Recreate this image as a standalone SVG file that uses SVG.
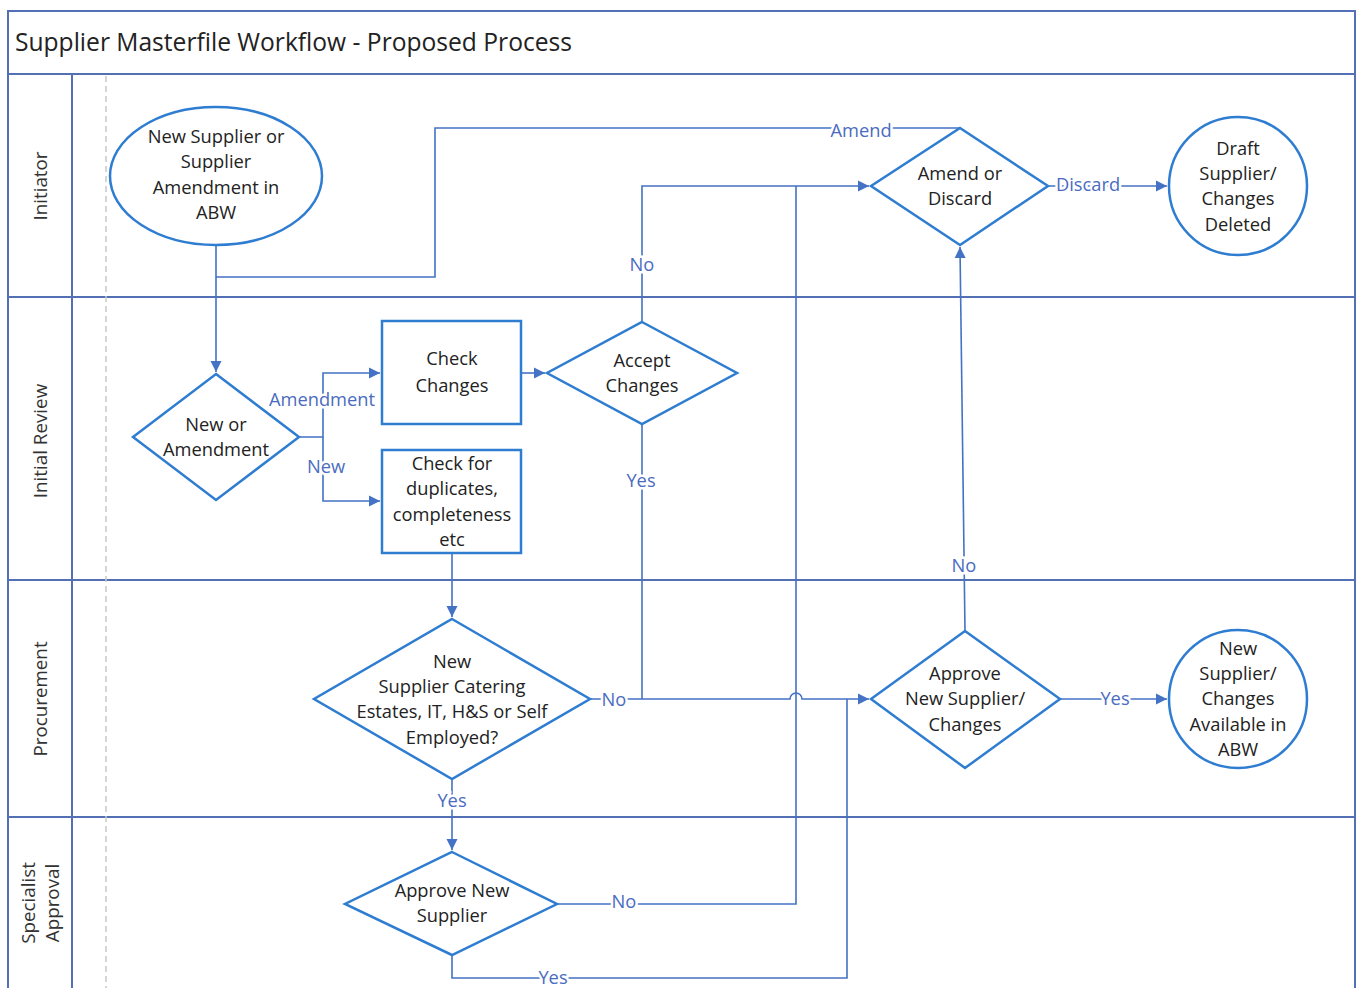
<svg xmlns="http://www.w3.org/2000/svg" width="1359" height="988" viewBox="0 0 1359 988">
<defs>
<marker id="arr" markerUnits="userSpaceOnUse" markerWidth="12" markerHeight="12" refX="11" refY="6" orient="auto">
<path d="M0,0.5 L11,6 L0,11.5 Z" fill="#4472c4"/>
</marker>
<style>
.lane{fill:none;stroke:#5470b4;stroke-width:2}
.dash{stroke:#c8c8c8;stroke-width:1.5;stroke-dasharray:6 4}
.shape{fill:#fff;stroke:#2e7dd1;stroke-width:2.5}
.con{fill:none;stroke:#4472c4;stroke-width:1.6}
.t{font-family:"Open Sans","Liberation Sans",sans-serif;font-size:18.3px;fill:#222;text-anchor:middle}
.lbl{font-family:"Open Sans","Liberation Sans",sans-serif;font-size:18.3px;fill:#4a6cc0;text-anchor:middle;stroke:#fff;stroke-width:5;paint-order:stroke}
.ln{font-family:"Open Sans","Liberation Sans",sans-serif;font-size:18.8px;fill:#333;text-anchor:middle}
</style>
</defs>
<rect width="1359" height="988" fill="#fff"/>
<g id="pool">
<rect class="lane" x="8" y="11" width="1347" height="1000"/>
<line class="lane" x1="8" y1="74" x2="1355" y2="74"/>
<line class="lane" x1="72" y1="74" x2="72" y2="988"/>
<line class="lane" x1="8" y1="297" x2="1355" y2="297"/>
<line class="lane" x1="8" y1="580" x2="1355" y2="580"/>
<line class="lane" x1="8" y1="817" x2="1355" y2="817"/>
<line class="dash" x1="106" y1="76" x2="106" y2="988"/>
<text x="15" y="51" font-family="'Open Sans','Liberation Sans',sans-serif" font-size="24.6" fill="#222">Supplier Masterfile Workflow - Proposed Process</text>
<text class="ln" transform="translate(47,186) rotate(-90)">Initiator</text>
<text class="ln" transform="translate(47,441) rotate(-90)">Initial Review</text>
<text class="ln" transform="translate(47,699) rotate(-90)">Procurement</text>
<text class="ln" transform="translate(35,903) rotate(-90)">Specialist</text>
<text class="ln" transform="translate(59,903) rotate(-90)">Approval</text>
</g>
<g id="connectors">
<path class="con" d="M216 245 V372" marker-end="url(#arr)"/>
<path class="con" d="M216 277 H435 V128 H960"/>
<path class="con" d="M299 437 H323 V373 H380" marker-end="url(#arr)"/>
<path class="con" d="M323 437 V501 H380" marker-end="url(#arr)"/>
<path class="con" d="M521 373 H545" marker-end="url(#arr)"/>
<path class="con" d="M642 322 V186 H869" marker-end="url(#arr)"/>
<path class="con" d="M642 424 V699"/>
<path class="con" d="M452 553 V617" marker-end="url(#arr)"/>
<path class="con" d="M590 699 H790 a6 6 0 0 1 12 0 H869" marker-end="url(#arr)"/>
<path class="con" d="M452 779 V850" marker-end="url(#arr)"/>
<path class="con" d="M557 904 H796 V186"/>
<path class="con" d="M452 955 V978 H847 V699"/>
<path class="con" d="M965 631 L960 247" marker-end="url(#arr)"/>
<path class="con" d="M1048 186 H1167" marker-end="url(#arr)"/>
<path class="con" d="M1060 699 H1167" marker-end="url(#arr)"/>
<text class="lbl" x="861" y="137">Amend</text>
<text class="lbl" x="322" y="406">Amendment</text>
<text class="lbl" x="326" y="473">New</text>
<text class="lbl" x="642" y="271">No</text>
<text class="lbl" x="641" y="487">Yes</text>
<text class="lbl" x="614" y="706">No</text>
<text class="lbl" x="452" y="807">Yes</text>
<text class="lbl" x="624" y="908">No</text>
<text class="lbl" x="553" y="984">Yes</text>
<text class="lbl" x="964" y="572">No</text>
<text class="lbl" x="1088" y="191">Discard</text>
<text class="lbl" x="1115" y="705">Yes</text>
</g>
<g id="n1">
<ellipse class="shape" cx="216" cy="176" rx="106" ry="69"/>
<text class="t" x="216" y="143">New Supplier or</text>
<text class="t" x="216" y="168">Supplier</text>
<text class="t" x="216" y="194">Amendment in</text>
<text class="t" x="216" y="219">ABW</text>
</g>
<g id="n2">
<polygon class="shape" points="216,374 299,437 216,500 133,437"/>
<text class="t" x="216" y="431">New or</text>
<text class="t" x="216" y="456">Amendment</text>
</g>
<g id="n3">
<rect class="shape" x="382" y="321" width="139" height="103"/>
<text class="t" x="452" y="365">Check</text>
<text class="t" x="452" y="392">Changes</text>
</g>
<g id="n4">
<rect class="shape" x="382" y="450" width="139" height="103"/>
<text class="t" x="452" y="470">Check for</text>
<text class="t" x="452" y="495">duplicates,</text>
<text class="t" x="452" y="521">completeness</text>
<text class="t" x="452" y="546">etc</text>
</g>
<g id="n5">
<polygon class="shape" points="642,322 737,373 642,424 547,373"/>
<text class="t" x="642" y="367">Accept</text>
<text class="t" x="642" y="392">Changes</text>
</g>
<g id="n6">
<polygon class="shape" points="960,128 1048,186 960,245 871,186"/>
<text class="t" x="960" y="180">Amend or</text>
<text class="t" x="960" y="205">Discard</text>
</g>
<g id="n7">
<circle class="shape" cx="1238" cy="186" r="69"/>
<text class="t" x="1238" y="155">Draft</text>
<text class="t" x="1238" y="180">Supplier/</text>
<text class="t" x="1238" y="205">Changes</text>
<text class="t" x="1238" y="231">Deleted</text>
</g>
<g id="n8">
<polygon class="shape" points="452,619 590,699 452,779 314,699"/>
<text class="t" x="452" y="668">New</text>
<text class="t" x="452" y="693">Supplier Catering</text>
<text class="t" x="452" y="718">Estates, IT, H&amp;S or Self</text>
<text class="t" x="452" y="744">Employed?</text>
</g>
<g id="n9">
<polygon class="shape" points="965,631 1060,699 965,768 871,699"/>
<text class="t" x="965" y="680">Approve</text>
<text class="t" x="965" y="705">New Supplier/</text>
<text class="t" x="965" y="731">Changes</text>
</g>
<g id="n10">
<circle class="shape" cx="1238" cy="699" r="69"/>
<text class="t" x="1238" y="655">New</text>
<text class="t" x="1238" y="680">Supplier/</text>
<text class="t" x="1238" y="705">Changes</text>
<text class="t" x="1238" y="731">Available in</text>
<text class="t" x="1238" y="756">ABW</text>
</g>
<g id="n11">
<polygon class="shape" points="452,852 557,904 452,955 345,904"/>
<text class="t" x="452" y="897">Approve New</text>
<text class="t" x="452" y="922">Supplier</text>
</g>
</svg>
